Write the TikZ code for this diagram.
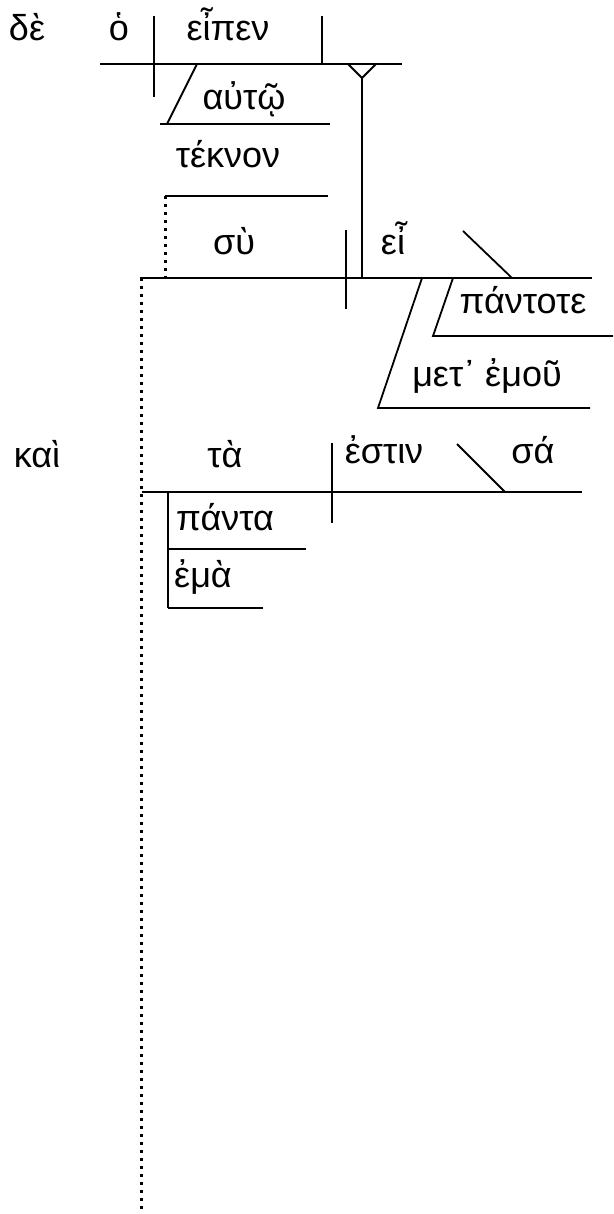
\documentclass[tikz,border=0pt]{standalone}
\usepackage{fontspec}
\setmainfont{Liberation Sans}
\begin{document}
\begin{tikzpicture}[x=1pt,y=-1pt,
  ln/.style={line width=1.8pt},
  dotln/.style={line width=3pt, dash pattern=on 3.2pt off 4.8pt},
  word/.style={font=\fontsize{36}{40}\selectfont, inner sep=0pt, anchor=base}]
\useasboundingbox (0,0) rectangle (613,1214);
% words
\node[word] (de) at (27,41) {δὲ};
\node[word] (ho) at (119,41) {ὁ};
\node[word] (eipen) at (228,41) {εἶπεν};
\node[word] (auto) at (244,110) {αὐτῷ};
\node[word] (teknon) at (228,168) {τέκνον};
\node[word] (su) at (234,255) {σὺ};
\node[word] (ei) at (393,255) {εἶ};
\node[word] (pantote) at (523,313) {πάντοτε};
\node[word] (metemou) at (487,386) {μετ᾽ ἐμοῦ};
\node[word] (kai) at (37,467) {καὶ};
\node[word] (ta) at (225,467) {τὰ};
\node[word] (estin) at (384,463) {ἐστιν};
\node[word] (sa) at (533,463) {σά};
\node[word] (panta) at (225,530) {πάντα};
\node[word] (ema) at (203,587) {ἐμὰ};
% clause 1
\coordinate (b1l) at (100,64); \coordinate (b1r) at (402,64);
\draw[ln] (b1l) -- (b1r);
\draw[ln] (154,16) -- (154,97);
\draw[ln] (322,16) -- (322,64);
\coordinate (ya) at (348,64); \coordinate (yb) at (376,64); \coordinate (yc) at (362,78);
\draw[ln] (ya) -- (yc) -- (yb);
\coordinate (yd) at (362,278);
\draw[ln] (yc) -- (yd);
\draw[ln] (197,64) -- (167,124);
\draw[ln] (160,124) -- (330,124);
% vocative
\coordinate (tk1) at (165,196); \coordinate (tk2) at (328,196);
\draw[ln] (tk1) -- (tk2);
\coordinate (tk3) at (165,278);
\draw[dotln] (tk1) -- (tk3);
% clause 2
\coordinate (b2l) at (140,278); \coordinate (b2r) at (592,278);
\draw[ln] (b2l) -- (b2r);
\draw[ln] (346,230) -- (346,309);
\draw[ln] (463,231) -- (512,278);
\draw[ln] (453,278) -- (433,336) -- (613,336);
\draw[ln] (422,278) -- (378,408) -- (590,408);
% clause 3
\coordinate (b3l) at (142,492); \coordinate (b3r) at (582,492);
\draw[ln] (b3l) -- (b3r);
\draw[ln] (332,443) -- (332,523);
\draw[ln] (457,444) -- (505,492);
\draw[ln] (168,492) -- (168,608);
\draw[ln] (168,549) -- (306,549);
\draw[ln] (168,608) -- (263,608);
% connector
\coordinate (dtop) at (141,278); \coordinate (dbot) at (141,1214);
\draw[dotln] (dtop) -- (dbot);
\end{tikzpicture}
\end{document}
